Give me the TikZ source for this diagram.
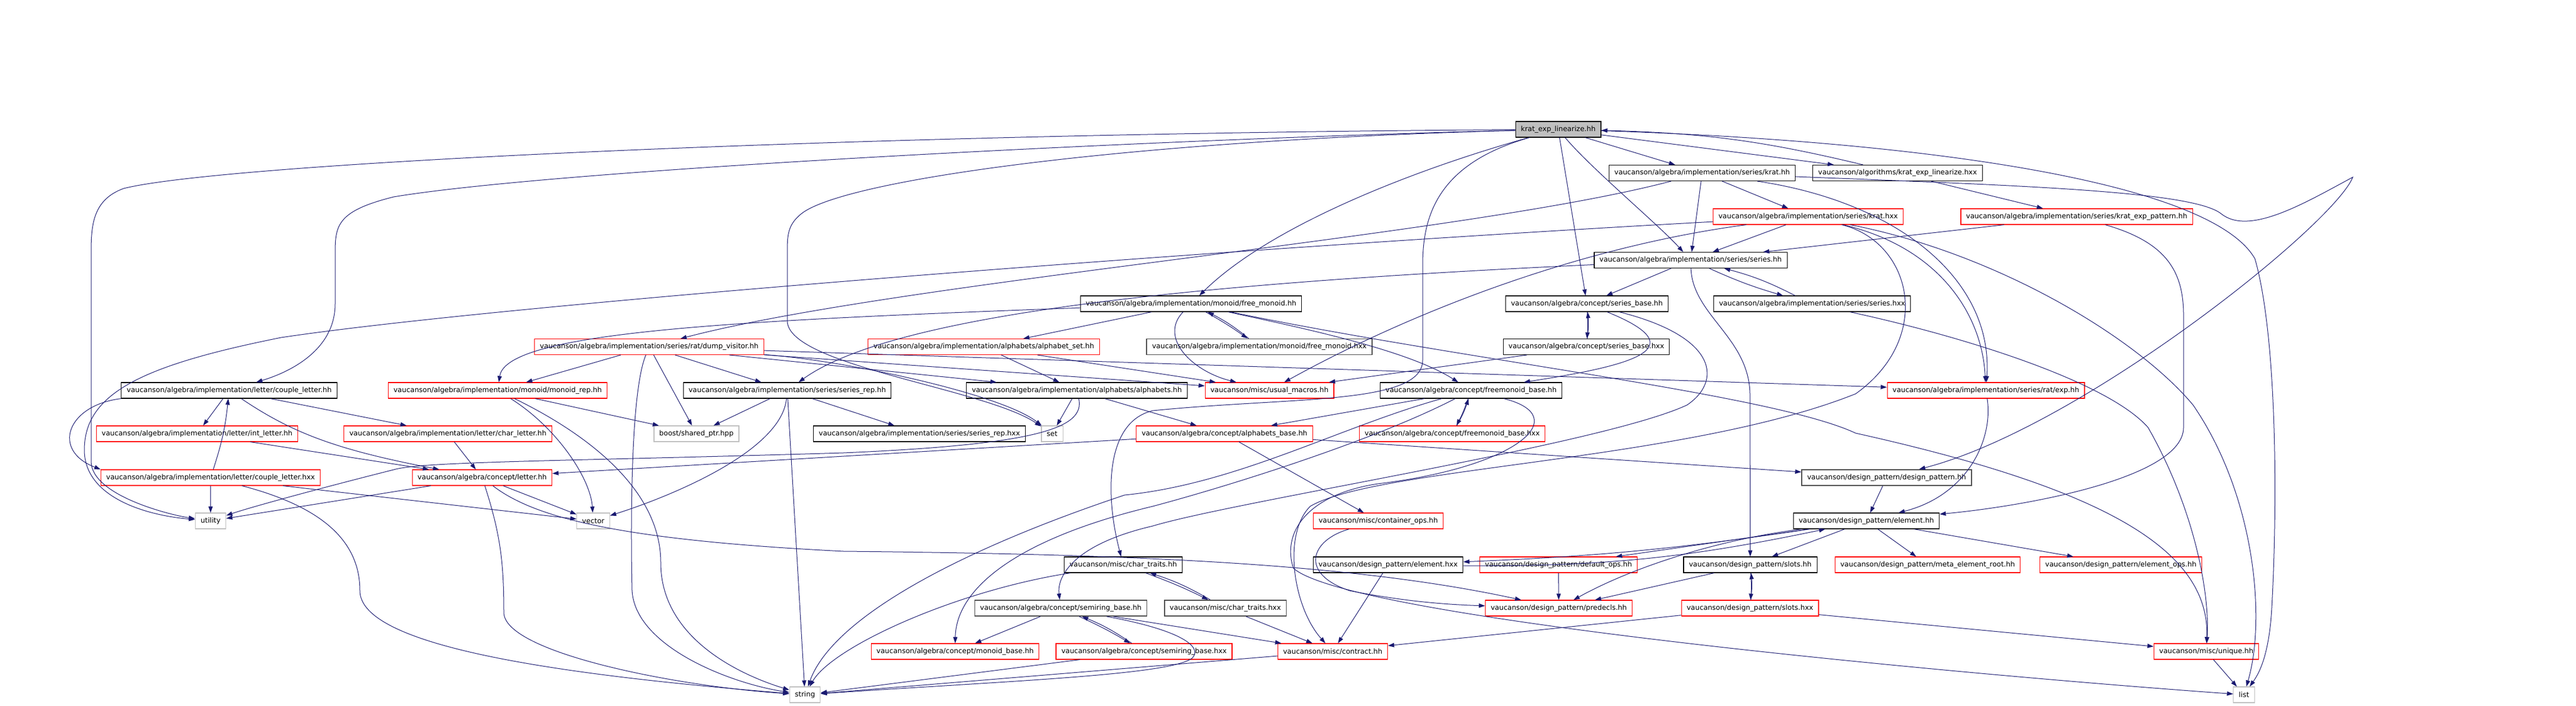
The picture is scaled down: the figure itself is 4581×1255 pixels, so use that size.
\documentclass[tikz,border=0pt]{standalone}
\usepackage{fontspec}
\setmainfont{DejaVu Sans}
\usetikzlibrary{arrows.meta}
\definecolor{edgeblue}{RGB}{25,25,112}
\definecolor{truncred}{RGB}{255,0,0}
\definecolor{extgray}{RGB}{191,191,191}
\begin{document}
\begin{tikzpicture}[x=0.2mm, y=-0.2mm, >={Triangle[length=2.2mm,width=1.5mm]},
  hdr/.style={draw=black, line width=0.22mm, inner xsep=1.9mm, inner ysep=0pt, minimum height=5.6mm, font=\fontsize{7.1}{8}\selectfont},
  trunc/.style={hdr, draw=truncred},
  ext/.style={hdr, draw=extgray},
  dim/.style={hdr, draw=black!70, line width=0.35mm},
  inc/.style={edgeblue, line width=0.2mm, ->}]
\useasboundingbox (0,0) rectangle (4581,1255);
% files
\node[hdr, fill=extgray] (root) at (2771,230) {krat\_exp\_linearize.hh};
\node[hdr] (krat) at (3027,307.5) {vaucanson/algebra/implementation/series/krat.hh};
\node[hdr] (kelx) at (3374.5,307.5) {vaucanson/algorithms/krat\_exp\_linearize.hxx};
\node[trunc] (kratx) at (3215.5,385) {vaucanson/algebra/implementation/series/krat.hxx};
\node[trunc] (kpat) at (3693,385) {vaucanson/algebra/implementation/series/krat\_exp\_pattern.hh};
\node[hdr] (series) at (3006.5,462.5) {vaucanson/algebra/implementation/series/series.hh};
\node[hdr] (seriesx) at (3222.5,540) {vaucanson/algebra/implementation/series/series.hxx};
\node[hdr] (sbase) at (2822,540) {vaucanson/algebra/concept/series\_base.hh};
\node[hdr] (sbasex) at (2821,616.5) {vaucanson/algebra/concept/series\_base.hxx};
\node[hdr] (fmon) at (2118,540) {vaucanson/algebra/implementation/monoid/free\_monoid.hh};
\node[dim] (fmonx) at (2239.5,616.5) {vaucanson/algebra/implementation/monoid/free\_monoid.hxx};
\node[trunc] (aset) at (1749.5,616.5) {vaucanson/algebra/implementation/alphabets/alphabet\_set.hh};
\node[trunc] (dump) at (1154.5,616.5) {vaucanson/algebra/implementation/series/rat/dump\_visitor.hh};
\node[hdr] (cpl) at (407.5,694) {vaucanson/algebra/implementation/letter/couple\_letter.hh};
\node[trunc] (mrep) at (885,694) {vaucanson/algebra/implementation/monoid/monoid\_rep.hh};
\node[hdr] (srep) at (1400,694) {vaucanson/algebra/implementation/series/series\_rep.hh};
\node[hdr] (alph) at (1915,694) {vaucanson/algebra/implementation/alphabets/alphabets.hh};
\node[trunc] (umac) at (2257.5,694) {vaucanson/misc/usual\_macros.hh};
\node[hdr] (fmb) at (2616,694) {vaucanson/algebra/concept/freemonoid\_base.hh};
\node[trunc] (rexp) at (3531.5,694) {vaucanson/algebra/implementation/series/rat/exp.hh};
\node[trunc] (intl) at (350.5,771) {vaucanson/algebra/implementation/letter/int\_letter.hh};
\node[trunc] (charl) at (796.5,771) {vaucanson/algebra/implementation/letter/char\_letter.hh};
\node[ext] (shptr) at (1238.5,771) {boost/shared\_ptr.hpp};
\node[hdr] (srepx) at (1635,771) {vaucanson/algebra/implementation/series/series\_rep.hxx};
\node[ext] (set) at (1871,771) {set};
\node[trunc] (abase) at (2177.5,771) {vaucanson/algebra/concept/alphabets\_base.hh};
\node[trunc] (fmbx) at (2582.5,771) {vaucanson/algebra/concept/freemonoid\_base.hxx};
\node[trunc] (cplx) at (374.5,849) {vaucanson/algebra/implementation/letter/couple\_letter.hxx};
\node[trunc] (letter) at (857.5,849) {vaucanson/algebra/concept/letter.hh};
\node[dim] (dpat) at (3355,849) {vaucanson/design\_pattern/design\_pattern.hh};
\node[ext] (utility) at (374.5,926) {utility};
\node[ext] (vector) at (1055,926) {vector};
\node[trunc] (cops) at (2451,926) {vaucanson/misc/container\_ops.hh};
\node[hdr] (elem) at (3319,926) {vaucanson/design\_pattern/element.hh};
\node[hdr] (ctr) at (1997.5,1004) {vaucanson/misc/char\_traits.hh};
\node[hdr] (elemx) at (2468.5,1004) {vaucanson/design\_pattern/element.hxx};
\node[trunc] (dops) at (2771.5,1004) {vaucanson/design\_pattern/default\_ops.hh};
\node[hdr] (slots) at (3112.5,1004) {vaucanson/design\_pattern/slots.hh};
\node[trunc] (meta) at (3428,1004) {vaucanson/design\_pattern/meta\_element\_root.hh};
\node[trunc] (eops) at (3771.5,1004) {vaucanson/design\_pattern/element\_ops.hh};
\node[dim] (sring) at (1886.5,1081) {vaucanson/algebra/concept/semiring\_base.hh};
\node[dim] (ctrx) at (2179,1081) {vaucanson/misc/char\_traits.hxx};
\node[trunc] (predecls) at (2772,1081) {vaucanson/design\_pattern/predecls.hh};
\node[trunc] (slotsx) at (3112,1081) {vaucanson/design\_pattern/slots.hxx};
\node[trunc] (mbase) at (1698.5,1158) {vaucanson/algebra/concept/monoid\_base.hh};
\node[trunc] (sringx) at (2034.5,1158) {vaucanson/algebra/concept/semiring\_base.hxx};
\node[trunc] (contract) at (2370,1158) {vaucanson/misc/contract.hh};
\node[trunc] (unique) at (3923.5,1158) {vaucanson/misc/unique.hh};
\node[ext] (string) at (1431.5,1235) {string};
\node[ext] (list) at (3990.5,1235) {list};
% short includes
\foreach \a/\b in {root/krat, root/kelx, root/sbase, krat/kratx, krat/series, kratx/series, kelx/kpat,
  kpat/series, series/sbase, fmon/aset, aset/alph, alph/set, alph/abase, cpl/intl, cpl/charl,
  intl/letter, charl/letter, cplx/utility, letter/utility, letter/vector, cplx/vector, dump/srep,
  dump/mrep, dump/shptr, dump/alph, dump/umac, dump/rexp, srep/shptr, srep/srepx, srep/string,
  mrep/shptr, abase/cops, fmb/abase, abase/letter, abase/dpat, dops/predecls, elemx/contract,
  ctrx/contract, sring/mbase, dpat/elem, elem/slots, elem/meta, elem/eops, slotsx/unique,
  unique/list, sringx/string, slots/predecls, elem/dops, aset/umac, sbasex/umac, slotsx/contract,
  contract/string, sring/contract}
  \draw[inc] (\a) -- (\b);
% includes both ways
\foreach \a/\b in {root/kelx, series/seriesx, sbase/sbasex, fmon/fmonx, fmb/fmbx, cpl/cplx,
  ctr/ctrx, sring/sringx, slots/slotsx, elem/elemx}
  \draw[inc] (\b) to[bend right=6] (\a);
\draw[inc] (series) to[bend right=4] (seriesx);
\draw[inc] (fmon) to[bend left=3] (fmonx);
\draw[inc] (sbase) to[bend left=4] (sbasex);
\draw[inc] (fmb) to[bend left=4] (fmbx);
\draw[inc] (ctr) to[bend left=3] (ctrx);
\draw[inc] (sring) to[bend left=3] (sringx);
\draw[inc] (slots) to[bend left=4] (slotsx);
\draw[inc] (elem) to[bend left=3] (elemx);
\draw[inc] (cpl.south west) .. controls (120,720) and (90,800) .. (cplx.north west);
% long includes
\draw[inc] (root) .. controls (2830,300) and (2950,400) .. (series);
\draw[inc] (root) .. controls (2520,300) and (2260,400) .. (fmon);
\draw[inc] (root) .. controls (2560,290) and (2530,380) .. (2530,470) -- (2530,640)
  .. controls (2530,720) and (2300,705) .. (2050,730) .. controls (1965,750) and (1965,880) .. (ctr);
\draw[inc] (root) .. controls (2100,246) and (1000,300) .. (700,350)
  .. controls (600,375) and (596,400) .. (596,450) -- (596,540) .. controls (596,620) and (520,660) .. (cpl);
\draw[inc] (root) .. controls (1500,238) and (400,290) .. (220,335)
  .. controls (165,355) and (162,400) .. (162,450) -- (162,820) .. controls (162,880) and (300,915) .. (utility);
\draw[inc] (root) .. controls (2000,250) and (1500,320) .. (1425,380)
  .. controls (1400,400) and (1400,420) .. (1400,450) -- (1400,570) .. controls (1400,650) and (1750,690) .. (set);
\draw[inc] (root) .. controls (3400,250) and (3930,320) .. (4010,460)
  .. controls (4050,600) and (4050,900) .. (4040,1080) .. controls (4035,1170) and (4015,1200) .. (list);
\draw[inc] (krat) .. controls (3380,360) and (3545,500) .. (rexp);
\draw[inc] (kratx) .. controls (3450,440) and (3525,560) .. (rexp);
\draw[inc] (krat) .. controls (2600,420) and (1600,500) .. (dump);
\draw[inc] (krat) .. controls (3600,330) and (3900,340) .. (3950,380)
  .. controls (4000,420) and (4100,360) .. (4184,315) .. controls (4150,400) and (3700,760) .. (dpat);
\draw[inc] (kratx) .. controls (2800,440) and (2500,560) .. (umac);
\draw[inc] (kratx) .. controls (2200,440) and (900,540) .. (500,600)
  .. controls (250,650) and (150,700) .. (150,800) .. controls (150,880) and (250,915) .. (utility);
\draw[inc] (kratx) .. controls (3400,430) and (3440,600) .. (3300,700)
  .. controls (3000,820) and (2450,830) .. (2330,900) .. controls (2280,950) and (2300,1080) .. (contract);
\draw[inc] (kratx) .. controls (3550,450) and (3800,600) .. (3900,720)
  .. controls (4010,880) and (4030,1100) .. (list);
\draw[inc] (kpat) .. controls (3850,430) and (3883,480) .. (3883,560) -- (3883,760)
  .. controls (3883,850) and (3600,900) .. (elem);
\draw[inc] (series) .. controls (2200,500) and (1600,550) .. (srep);
\draw[inc] (series) .. controls (3010,560) and (3110,600) .. (3112,700) -- (slots);
\draw[inc] (seriesx) .. controls (3500,600) and (3750,680) .. (3820,760)
  .. controls (3900,900) and (3930,1050) .. (unique);
\draw[inc] (sbase) .. controls (3020,620) and (2900,650) .. (fmb);
\draw[inc] (sbase) .. controls (3060,600) and (3060,680) .. (3000,720)
  .. controls (2850,790) and (2200,890) .. (2050,935) .. controls (1900,970) and (1880,1030) .. (sring);
\draw[inc] (fmon) .. controls (2060,600) and (2120,660) .. (umac);
\draw[inc] (fmon) .. controls (2300,580) and (2500,620) .. (fmb);
\draw[inc] (fmon) .. controls (1300,570) and (900,590) .. (mrep);
\draw[inc] (fmon) .. controls (2600,640) and (3150,700) .. (3300,770)
  .. controls (3750,870) and (3930,980) .. (unique);
\draw[inc] (dump) .. controls (1500,640) and (1780,700) .. (set);
\draw[inc] (dump) .. controls (1120,700) and (1122,950) .. (1124,1050)
  .. controls (1130,1150) and (1300,1215) .. (string);
\draw[inc] (mrep) .. controls (1000,750) and (1175,850) .. (1175,1000)
  .. controls (1175,1150) and (1350,1210) .. (string);
\draw[inc] (mrep) .. controls (990,760) and (1050,850) .. (vector);
\draw[inc] (srep) .. controls (1390,800) and (1200,880) .. (vector);
\draw[inc] (alph) .. controls (1930,760) and (1850,790) .. (1500,805)
  .. controls (1000,820) and (750,820) .. (700,835) .. controls (600,860) and (450,900) .. (utility);
\draw[inc] (cpl) .. controls (520,770) and (600,800) .. (letter);
\draw[inc] (cplx) .. controls (570,900) and (640,960) .. (640,1050)
  .. controls (640,1150) and (1000,1200) .. (string);
\draw[inc] (letter) .. controls (890,950) and (896,1000) .. (896,1090)
  .. controls (900,1160) and (1200,1220) .. (string);
\draw[inc] (letter) .. controls (950,920) and (1100,960) .. (1500,980)
  .. controls (2000,985) and (2400,1000) .. (predecls);
\draw[inc] (fmb) .. controls (2380,760) and (2200,860) .. (2000,880)
  .. controls (1700,980) and (1480,1100) .. (string);
\draw[inc] (fmb) .. controls (2450,780) and (2200,860) .. (2050,900)
  .. controls (1800,960) and (1700,1050) .. (mbase);
\draw[inc] (fmb) .. controls (2800,740) and (2700,830) .. (2450,860)
  .. controls (2320,880) and (2280,950) .. (2300,1010) .. controls (2400,1100) and (3500,1200) .. (list);
\draw[inc] (cops) .. controls (2330,960) and (2310,1020) .. (2400,1050)
  .. controls (2500,1070) and (2580,1075) .. (predecls);
\draw[inc] (sring) .. controls (2100,1120) and (2140,1150) .. (2120,1170)
  .. controls (2080,1200) and (1800,1210) .. (string);
\draw[inc] (ctr) .. controls (1700,1050) and (1480,1150) .. (string);
\draw[inc] (rexp) .. controls (3545,780) and (3500,880) .. (elem);
\draw[inc] (elem) .. controls (3050,960) and (2900,1010) .. (predecls);
\end{tikzpicture}
\end{document}
